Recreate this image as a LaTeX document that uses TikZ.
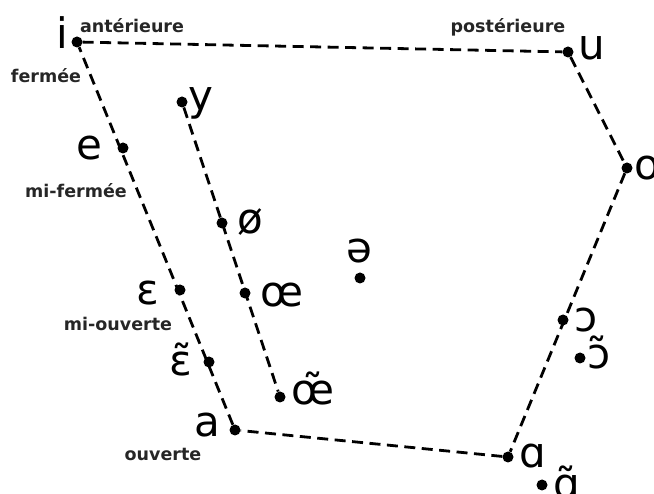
\documentclass[tikz,border=0pt]{standalone}
\usepackage{fontspec}
\setmainfont{DejaVu Sans}
\usepackage{tikz}
\usetikzlibrary{positioning}

\begin{document}
\begin{tikzpicture}[
    x=1pt, y=-1pt,
    vowel/.style={font=\fontsize{42}{46}\selectfont, inner sep=0pt},
    degree/.style={font=\bfseries\fontsize{17.5}{20}\selectfont, inner sep=0pt, text=black!85},
    vdot/.style={circle, fill=black, inner sep=0pt, minimum size=11pt},
    trapline/.style={dash pattern=on 11pt off 6.5pt, line width=2.8pt}
]
\useasboundingbox (0,0) rectangle (654,494);
% points of the trapezium
\node[vdot] (i) at (77,42) {};
\node[vdot] (u) at (568,52) {};
\node[vdot] (o) at (627,168) {};
\node[vdot] (alpha) at (508,457) {};
\node[vdot] (a) at (235,430) {};
\node[vdot] (e) at (123,148) {};
\node[vdot] (epsilon) at (180,290) {};
\node[vdot] (epsnas) at (209,362) {};
\node[vdot] (y) at (182,102) {};
\node[vdot] (oslash) at (222,223) {};
\node[vdot] (oe) at (245,293) {};
\node[vdot] (oenas) at (280,397) {};
\node[vdot] (schwa) at (360,278) {};
\node[vdot] (openo) at (563,320) {};
\node[vdot] (openonas) at (580,358) {};
\node[vdot] (alphanas) at (542,485) {};
% vowel letters
\node[vowel] (lbl-i) at (62,33) {i};
\node[vowel] (lbl-u) at (592,48) {u};
\node[vowel, anchor=west] (lbl-o) at (634,168) {o};
\node[vowel] (lbl-e) at (89,148) {e};
\node[vowel] (lbl-epsilon) at (148,293) {ɛ};
\node[vowel] (lbl-epsnas) at (181,359) {ɛ̃};
\node[vowel] (lbl-y) at (201,103) {y};
\node[vowel] (lbl-oslash) at (250,222) {ø};
\node[vowel] (lbl-oe) at (282,295) {œ};
\node[vowel] (lbl-oenas) at (313,388) {œ̃};
\node[vowel] (lbl-schwa) at (359,251) {ə};
\node[vowel] (lbl-a) at (207,425) {a};
\node[vowel] (lbl-alpha) at (533,456) {ɑ};
\node[vowel] (lbl-alphanas) at (567,482) {ɑ̃};
\node[vowel] (lbl-openo) at (586,320) {ɔ};
\node[vowel] (lbl-openonas) at (599,352) {ɔ̃};
% degrees of aperture
\node[degree] (front) at (132,26) {antérieure};
\node[degree] (back) at (508,27) {postérieure};
\node[degree] (closed) at (46,76) {fermée};
\node[degree] (midclosed) at (76,191) {mi-fermée};
\node[degree] (midopen) at (118,324) {mi-ouverte};
\node[degree] (open) at (163,454) {ouverte};
\draw[trapline] (i) -- (u) -- (o) -- (alpha) -- (a) -- (i);
\draw[trapline] (y) -- (oenas);
\end{tikzpicture}
\end{document}
